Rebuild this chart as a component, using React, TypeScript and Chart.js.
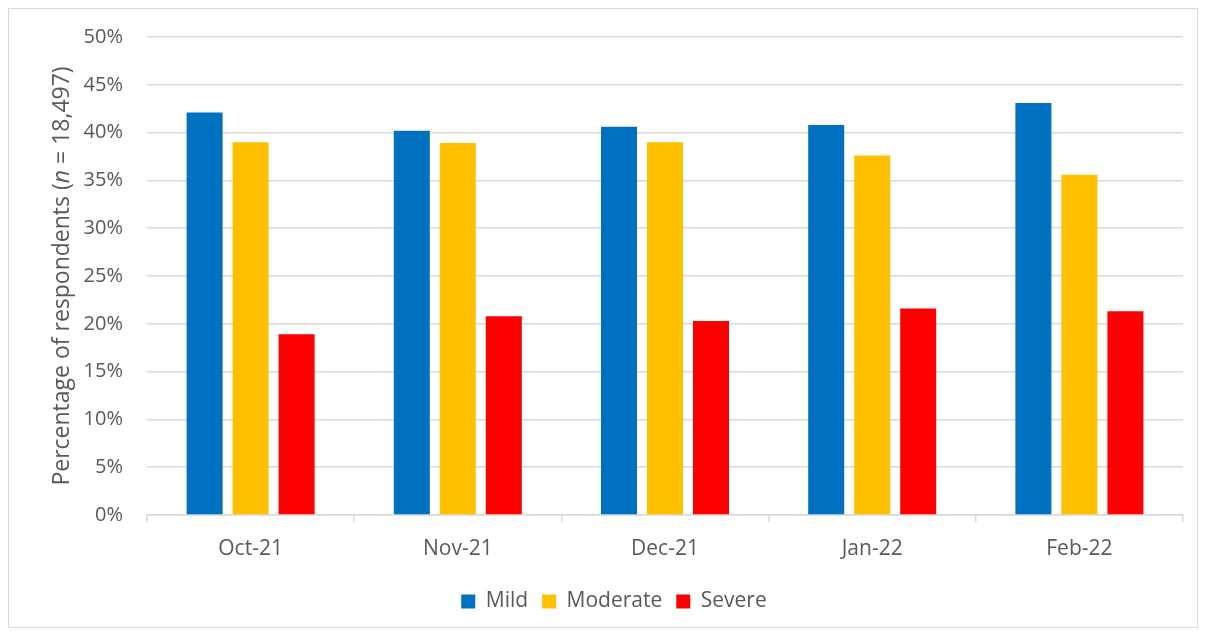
import React, { useEffect, useRef } from "react";
import { Chart, registerables } from "chart.js";

Chart.register(...registerables);

const categories = ["Oct-21", "Nov-21", "Dec-21", "Jan-22", "Feb-22"];
const mild = [42.1, 40.2, 40.6, 40.8, 43.1];
const moderate = [39.0, 38.9, 39.0, 37.6, 35.6];
const severe = [18.9, 20.8, 20.3, 21.6, 21.3];
const seriesNames = ["Mild", "Moderate", "Severe"];
const seriesColors = ["#0070C0", "#FFC000", "#FF0000"];
const yTitleParts: [string, boolean][] = [
  ["Percentage of respondents (", false],
  ["n", true],
  [" = 18,497)", false],
];

const FONT = "'Open Sans', sans-serif";
const TEXT = "#595959";
const GRID = "#d9d9d9";

const yTitlePlugin = {
  id: "yTitlePlugin",
  afterLayout(chart: any) {
    const lg = chart.legend;
    if (lg) {
      lg.left += 18;
      lg.right += 18;
    }
  },
  afterDraw(chart: any) {
    const { ctx, chartArea } = chart;
    ctx.save();
    const cy = (chartArea.top + chartArea.bottom) / 2;
    ctx.translate(53, cy);
    ctx.rotate(-Math.PI / 2);
    ctx.fillStyle = TEXT;
    ctx.textBaseline = "middle";
    ctx.textAlign = "left";
    const size = 23;
    let total = 0;
    const widths: number[] = [];
    for (const [t, it] of yTitleParts) {
      ctx.font = `${it ? "italic " : ""}${size}px ${FONT}`;
      const w = ctx.measureText(t).width;
      widths.push(w);
      total += w;
    }
    let x = -total / 2;
    yTitleParts.forEach(([t, it], i) => {
      ctx.font = `${it ? "italic " : ""}${size}px ${FONT}`;
      ctx.fillText(t, x, 0);
      x += widths[i];
    });
    ctx.restore();
  },
};

export default function App() {
  const ref = useRef<HTMLCanvasElement>(null);
  useEffect(() => {
    if (!ref.current) return;
    const data = [mild, moderate, severe];
    const chart = new Chart(ref.current, {
      type: "bar",
      data: {
        labels: categories,
        datasets: seriesNames.map((n, i) => ({
          label: n,
          data: data[i],
          backgroundColor: seriesColors[i],
          borderWidth: 0,
          categoryPercentage: 0.666,
          barPercentage: 0.783,
        })),
      },
      options: {
        animation: false,
        responsive: true,
        maintainAspectRatio: false,
        layout: { padding: { left: 0, right: 14, top: 28, bottom: 5 } },
        plugins: {
          tooltip: { enabled: false },
          legend: {
            position: "bottom",
            labels: {
              boxWidth: 14,
              boxHeight: 14,
              padding: 14,
              color: TEXT,
              font: { family: FONT, size: 21 },
            },
          },
        },
        scales: {
          x: {
            grid: {
              display: true,
              drawOnChartArea: false,
              drawTicks: true,
              tickLength: 7,
              color: GRID,
              lineWidth: 1.5,
            },
            border: { display: true, color: GRID, width: 1.5 },
            ticks: { color: TEXT, padding: 14, font: { family: FONT, size: 21 } },
            afterFit: (s: any) => {
              s.height = 62;
            },
          },
          y: {
            min: 0,
            max: 50,
            ticks: {
              stepSize: 5,
              color: TEXT,
              padding: 6,
              font: { family: FONT, size: 20 },
              callback: (v: any) => `${v}%`,
            },
            grid: {
              color: GRID,
              lineWidth: 1.5,
              drawTicks: true,
              tickLength: 18,
              tickColor: "rgba(0,0,0,0)",
            },
            border: { display: false },
            afterFit: (s: any) => {
              s.width = 138;
            },
          },
        },
      },
      plugins: [yTitlePlugin],
    } as any);
    return () => chart.destroy();
  }, []);
  return (
    <div
      style={{
        width: 1190,
        height: 620,
        border: "1px solid #d9d9d9",
        boxSizing: "border-box",
        background: "#fff",
      }}
    >
      <canvas ref={ref} />
    </div>
  );
}
